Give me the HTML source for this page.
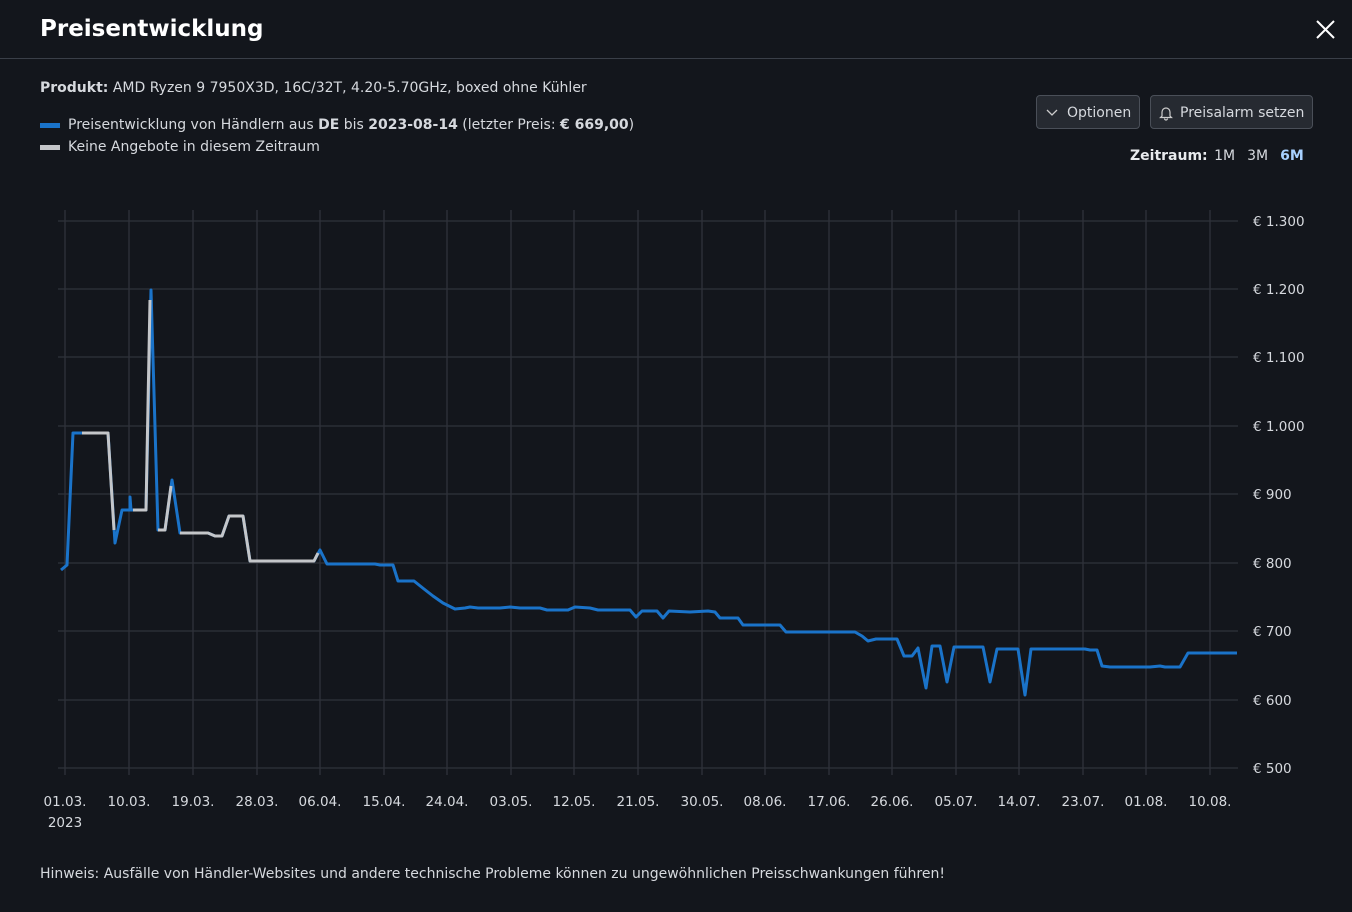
<!DOCTYPE html>
<html><head><meta charset="utf-8"><style>
body{margin:0;width:1352px;height:912px;background:#13161c;font-family:"DejaVu Sans","Liberation Sans",sans-serif;color:#d6d9de;overflow:hidden;position:relative}
.t{position:absolute;white-space:nowrap}
.hdr{position:absolute;left:0;top:0;width:1352px;height:58px;border-bottom:1px solid #3a3f48}
.btn{position:absolute;top:95px;height:34px;border:1px solid #4a4f58;border-radius:4px;background:#262a31;font-size:14px;line-height:34px;color:#d6d9de;box-sizing:border-box}
</style></head><body>
<div class="hdr"></div>
<div class="t" style="left:40px;top:16px;font-size:23px;font-weight:bold;color:#fff">Preisentwicklung</div>
<svg style="position:absolute;left:1315px;top:19px" width="21" height="21"><path d="M2 2L19 19M19 2L2 19" stroke="#fff" stroke-width="2"/></svg>
<div class="t" style="left:40px;top:80px;font-size:14px"><b>Produkt:</b> AMD Ryzen 9 7950X3D, 16C/32T, 4.20-5.70GHz, boxed ohne Kühler</div>
<div style="position:absolute;left:40px;top:123px;width:20px;height:5px;background:#1a73c9"></div>
<div class="t" style="left:68px;top:117px;font-size:14px">Preisentwicklung von Händlern aus <b>DE</b> bis <b>2023-08-14</b> (letzter Preis: <b>€ 669,00</b>)</div>
<div style="position:absolute;left:40px;top:145px;width:20px;height:5px;background:#c4c6c9"></div>
<div class="t" style="left:68px;top:139px;font-size:14px">Keine Angebote in diesem Zeitraum</div>
<div class="btn" style="left:1036px;width:104px;padding-left:30px">Optionen</div>
<svg style="position:absolute;left:1046px;top:108px" width="12" height="10"><path d="M1 2L6 7L11 2" stroke="#ccc" fill="none" stroke-width="1.3"/></svg>
<div class="btn" style="left:1150px;width:163px;padding-left:29px">Preisalarm setzen</div>
<svg style="position:absolute;left:1158px;top:105px" width="16" height="16"><path d="M4 11V7a4 4 0 0 1 8 0v4l1.5 1.5h-11z M6.5 13.5a1.5 1.5 0 0 0 3 0" stroke="#ccc" fill="none" stroke-width="1.2"/></svg>
<div class="t" style="left:1130px;top:148px;font-size:14px"><b style="color:#e8eaed">Zeitraum:</b> <span style="margin-left:2px">1M</span><span style="margin-left:12px">3M</span><b style="margin-left:12px;color:#a8d1ff">6M</b></div>
<svg style="position:absolute;left:0;top:0" width="1352" height="912">
<g stroke="#2f333b" stroke-width="1.3">
<line x1="58" x2="1238" y1="221" y2="221"/><line x1="58" x2="1238" y1="289" y2="289"/><line x1="58" x2="1238" y1="357" y2="357"/><line x1="58" x2="1238" y1="426" y2="426"/><line x1="58" x2="1238" y1="494" y2="494"/><line x1="58" x2="1238" y1="563" y2="563"/><line x1="58" x2="1238" y1="631" y2="631"/><line x1="58" x2="1238" y1="700" y2="700"/><line x1="58" x2="1238" y1="768" y2="768"/>
<line x1="65" x2="65" y1="210" y2="775"/><line x1="129" x2="129" y1="210" y2="775"/><line x1="193" x2="193" y1="210" y2="775"/><line x1="257" x2="257" y1="210" y2="775"/><line x1="320" x2="320" y1="210" y2="775"/><line x1="384" x2="384" y1="210" y2="775"/><line x1="447" x2="447" y1="210" y2="775"/><line x1="511" x2="511" y1="210" y2="775"/><line x1="574" x2="574" y1="210" y2="775"/><line x1="638" x2="638" y1="210" y2="775"/><line x1="702" x2="702" y1="210" y2="775"/><line x1="765" x2="765" y1="210" y2="775"/><line x1="829" x2="829" y1="210" y2="775"/><line x1="892" x2="892" y1="210" y2="775"/><line x1="956" x2="956" y1="210" y2="775"/><line x1="1019" x2="1019" y1="210" y2="775"/><line x1="1083" x2="1083" y1="210" y2="775"/><line x1="1146" x2="1146" y1="210" y2="775"/><line x1="1210" x2="1210" y1="210" y2="775"/>
</g>
<g fill="none" stroke-width="3" stroke-linejoin="round">
<path stroke="#1a73c9" d="M61 570L67 565L73 433L80 433L108 433L115 543L122 510L130 510L130 497L131 510L146 510L151 290L158 530L165 530L172 480L180 533L208 533L215 536L222 536L229 516L243 516L250 561L314 561L320 550L327 564L375 564L380 565L393 565L398 581L414 581L424 589L433 596L443 603L455 609L465 608L470 607L478 608L500 608L510 607L520 608L540 608L547 610L568 610L575 607L590 608L598 610L630 610L636 617L642 611L657 611L663 618L669 611L690 612L708 611L715 612L720 618L738 618L743 625L780 625L786 632L855 632L862 636L868 641L876 639L897 639L904 656L912 656L918 648L926 688L932 646L940 646L947 682L954 647L983 647L990 682L997 649L1018 649L1025 695L1031 649L1085 649L1090 650L1097 650L1102 666L1110 667L1150 667L1160 666L1165 667L1180 667L1188 653L1237 653"/>
<g stroke="#c4c6c9">
<path d="M82 433L108 433L114 530"/>
<path d="M133 510L146 510L150 300"/>
<path d="M158 530L165 530L171 486"/>
<path d="M180 533L208 533L215 536L222 536L229 516L243 516L250 561L314 561L318 553"/>
</g></g>
<g fill="#d6d9de" font-size="13.5" font-family="DejaVu Sans,Liberation Sans,sans-serif">
<text x="1253" y="226">€ 1.300</text><text x="1253" y="294">€ 1.200</text><text x="1253" y="362">€ 1.100</text><text x="1253" y="431">€ 1.000</text><text x="1253" y="499">€ 900</text><text x="1253" y="568">€ 800</text><text x="1253" y="636">€ 700</text><text x="1253" y="705">€ 600</text><text x="1253" y="773">€ 500</text>
<g text-anchor="middle">
<text x="65" y="806">01.03.</text><text x="65" y="827">2023</text><text x="129" y="806">10.03.</text><text x="193" y="806">19.03.</text><text x="257" y="806">28.03.</text><text x="320" y="806">06.04.</text><text x="384" y="806">15.04.</text><text x="447" y="806">24.04.</text><text x="511" y="806">03.05.</text><text x="574" y="806">12.05.</text><text x="638" y="806">21.05.</text><text x="702" y="806">30.05.</text><text x="765" y="806">08.06.</text><text x="829" y="806">17.06.</text><text x="892" y="806">26.06.</text><text x="956" y="806">05.07.</text><text x="1019" y="806">14.07.</text><text x="1083" y="806">23.07.</text><text x="1146" y="806">01.08.</text><text x="1210" y="806">10.08.</text>
</g></g>
</svg>
<div class="t" style="left:40px;top:866px;font-size:14px">Hinweis: Ausfälle von Händler-Websites und andere technische Probleme können zu ungewöhnlichen Preisschwankungen führen!</div>
</body></html>
